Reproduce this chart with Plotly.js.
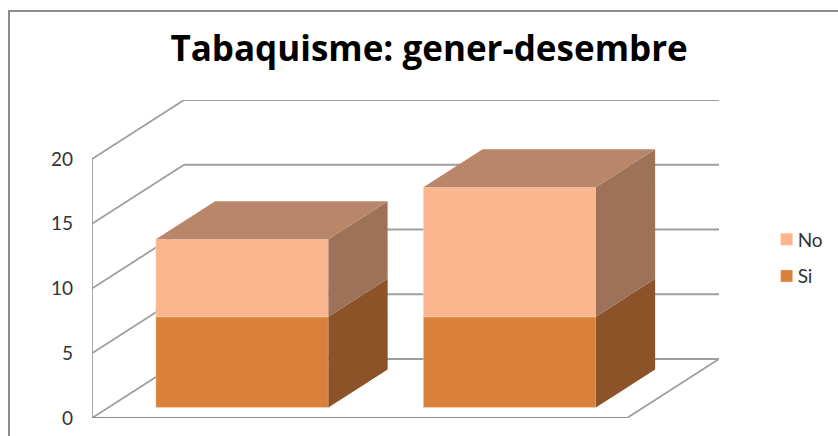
<!DOCTYPE html>
<html>
<head>
<meta charset="utf-8">
<script src="https://cdn.plot.ly/plotly-3.0.1.min.js"></script>
<style>html,body{margin:0;padding:0;background:#fff;overflow:hidden}</style>
</head>
<body>
<div id="chart" style="width:838px;height:436px"></div>
<script>
// Data
var categories = [0, 1];
var seriesNames = ['Si', 'No'];
var si = [7, 7];
var no = [6, 10];
var yTicks = [0, 5, 10, 15, 20];
var chartTitle = 'Tabaquisme: gener-desembre';

// Oblique projection settings of the 3D look (data units)
var DEPTH_X = 0.344, DEPTH_Y = 4.556;
var BAR_FRONT = 0.178, BAR_BACK = 0.822, BAR_WIDTH = 0.645;
var X_MIN = -0.5, X_FLOOR_MAX = 1.5, X_MAX = 1.844, Y_MAX = 24.556;

var COL = {
  si: '#D9813B', no: '#FBB690', top: '#BA8669',
  sideNo: '#9E7259', sideSi: '#8B5327', grid: '#9E9E9E', frame: '#8C8C8C'
};
function px(x, f) { return x + f * DEPTH_X; }
function py(v, f) { return v + f * DEPTH_Y; }

var shapes = [];
function line(x0, y0, x1, y1, color, w) {
  shapes.push({type: 'line', layer: 'below', xref: 'x', yref: 'y', x0: x0, y0: y0, x1: x1, y1: y1,
    line: {color: color || COL.grid, width: w || 1.8}});
}
yTicks.forEach(function (v) {
  line(px(X_MIN, 0), py(v, 0), px(X_MIN, 1), py(v, 1));
  line(px(X_MIN, 1), py(v, 1), px(X_FLOOR_MAX, 1), py(v, 1));
});
line(X_MIN, 0, X_MIN, 20);
line(X_MIN, 0, X_FLOOR_MAX, 0, COL.frame, 2);
line(X_FLOOR_MAX, 0, px(X_FLOOR_MAX, 1), py(0, 1));

// Outer chart frame, placed in paper coordinates
shapes.push({type: 'rect', layer: 'below', xref: 'paper', yref: 'paper',
  x0: -0.1324, x1: 1.3, y0: -0.2, y1: 1.28,
  line: {color: COL.frame, width: 2}, fillcolor: 'rgba(0,0,0,0)'});

function poly(xs, ys, color) {
  return {type: 'scatter', mode: 'lines', x: xs, y: ys, fill: 'toself', fillcolor: color,
    line: {width: 0, color: color}, hoverinfo: 'skip', showlegend: false};
}

var traces = [];
categories.forEach(function (c, i) {
  var l = px(c, BAR_FRONT) - BAR_WIDTH / 2;
  var r = l + BAR_WIDTH;
  var dx = (BAR_BACK - BAR_FRONT) * DEPTH_X;
  var b0 = py(0, BAR_FRONT), b1 = b0 + si[i], b2 = b1 + no[i];
  var d = (BAR_BACK - BAR_FRONT) * DEPTH_Y;
  traces.push(poly([r, r, r + dx, r + dx, r], [b0, b1, b1 + d, b0 + d, b0], COL.sideSi));
  traces.push(poly([r, r, r + dx, r + dx, r], [b1, b2, b2 + d, b1 + d, b1], COL.sideNo));
  traces.push(poly([l, l + dx, r + dx, r, l], [b2, b2 + d, b2 + d, b2, b2], COL.top));
});

var barX = categories.map(function (c) { return px(c, BAR_FRONT); });
var base0 = py(0, BAR_FRONT);
var edge = {width: 0.8, color: 'rgba(255,225,200,0.5)'};
traces.push({type: 'bar', name: seriesNames[1], legendgroup: 'no', x: barX, y: no,
  base: si.map(function (v) { return base0 + v; }), width: BAR_WIDTH,
  marker: {color: COL.no, line: edge}, hoverinfo: 'skip'});
traces.push({type: 'bar', name: seriesNames[0], legendgroup: 'si', x: barX, y: si,
  base: si.map(function () { return base0; }), width: BAR_WIDTH,
  marker: {color: COL.si, line: edge}, hoverinfo: 'skip'});

var layout = {
  width: 838, height: 436,
  margin: {l: 92, r: 119, t: 100, b: 18, pad: 0, autoexpand: false},
  paper_bgcolor: '#fff', plot_bgcolor: 'rgba(0,0,0,0)',
  barmode: 'overlay',
  title: {text: chartTitle, x: 0.512, xanchor: 'center', y: 0.888, yanchor: 'middle',
    font: {family: '"Open Sans", sans-serif', size: 35, color: '#000', weight: 700}},
  xaxis: {range: [X_MIN, X_MAX], visible: false, fixedrange: true},
  yaxis: {range: [0, Y_MAX], tickvals: yTicks, ticktext: yTicks.map(String),
    showgrid: false, zeroline: false, showline: false, ticks: '', ticklabelstandoff: 18,
    tickfont: {family: 'Lato, sans-serif', size: 19, color: '#333'}, fixedrange: true},
  legend: {x: 1.076, xanchor: 'left', y: 0.5035, yanchor: 'middle',
    traceorder: 'grouped', tracegroupgap: 9, bgcolor: 'rgba(0,0,0,0)',
    font: {family: 'Lato, sans-serif', size: 19, color: '#333'}, itemclick: false, itemdoubleclick: false},
  shapes: shapes,
  showlegend: true
};
Plotly.newPlot('chart', traces, layout, {displayModeBar: false, staticPlot: true}).then(function (gd) {
  // The reference keeps its legend labels closer to the swatches
  gd.querySelectorAll('.legendtext').forEach(function (t) { t.setAttribute('x', 31); });
});
</script>
</body>
</html>
